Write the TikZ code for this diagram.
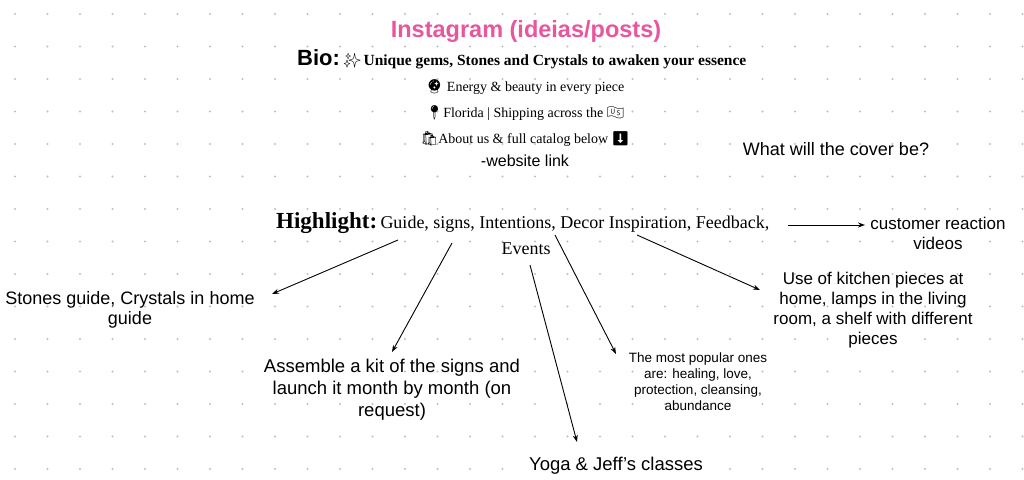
\documentclass[tikz,border=0pt]{standalone}
\usepackage{fontspec}
\setmainfont{Liberation Serif}
\setsansfont{Liberation Sans}
\newfontfamily\emo{Noto Emoji}
\usetikzlibrary{arrows.meta}
\definecolor{pinkt}{HTML}{E8579E}
\tikzset{
  lbl/.style={font=\sffamily\fontsize{18}{20}\selectfont, align=center, inner sep=0pt},
  arr/.style={-{Stealth[length=7pt,width=5pt]}, line width=0.9pt, shorten >=0pt},
}
\begin{document}
\begin{tikzpicture}[x=1pt,y=-1pt]
\useasboundingbox (0,0) rectangle (1024,479);
\fill[white] (0,0) rectangle (1024,479);
\foreach \i in {0,...,31}{\foreach \j in {0,...,14}{
  \fill[black!25] ({15+32.5*\i},{14+32.5*\j}) circle (1.1);}}
\node[inner sep=0pt, text=pinkt, font=\sffamily\bfseries\fontsize{23.5}{26}\selectfont] (title) at (526,31) {Instagram (ideias/posts)};
\node[inner sep=0pt, anchor=west] (bio) at (297,59) {{\sffamily\bfseries\fontsize{22}{24}\selectfont Bio:} {\emo\fontsize{14}{15}\selectfont ✨} {\bfseries\fontsize{15.5}{16}\selectfont Unique gems, Stones and Crystals to awaken your essence}};
\node[inner sep=0pt, font=\fontsize{14}{16}\selectfont] (b1) at (525,87) {{\emo 🔮} Energy \& beauty in every piece};
\node[inner sep=0pt, font=\fontsize{14}{16}\selectfont] (b2) at (525,113) {{\emo 📍}Florida | Shipping across the {\emo 🇺🇸}};
\node[inner sep=0pt, font=\fontsize{14}{16}\selectfont] (b3) at (525,139) {{\emo 🛍}About us \& full catalog below {\emo ⬇}};
\node[lbl, font=\sffamily\fontsize{16}{18}\selectfont] (web) at (525,161) {-website link};
\node[lbl] (cover) at (836,149) {What will the cover be?};
\node[inner sep=0pt, anchor=west] (hl) at (276,223) {{\bfseries\fontsize{23}{26}\selectfont Highlight:} {\fontsize{18}{20}\selectfont Guide, signs, Intentions, Decor Inspiration, Feedback,}};
\node[inner sep=0pt, font=\fontsize{18}{20}\selectfont] (ev) at (526,249) {Events};
\node[lbl, font=\sffamily\fontsize{17}{20}\selectfont] (cust) at (938,233) {customer reaction\\videos};
\node[lbl] (stones) at (130,310) {Stones guide, Crystals in home\\guide};
\node[lbl, font=\sffamily\fontsize{18.5}{22}\selectfont] (kit) at (392,390) {Assemble a kit of the signs and\\launch it month by month (on\\request)};
\node[lbl, font=\sffamily\fontsize{13.5}{16}\selectfont] (pop) at (698,382) {The most popular ones\\are: healing, love,\\protection, cleansing,\\abundance};
\node[lbl, font=\sffamily\fontsize{17}{20}\selectfont] (use) at (873,310) {Use of kitchen pieces at\\home, lamps in the living\\room, a shelf with different\\pieces};
\node[lbl, font=\sffamily\fontsize{18.5}{20}\selectfont] (yoga) at (616,466) {Yoga \& Jeff's classes};
\coordinate (s0) at (788,225); \coordinate (e0) at (865,225);
\coordinate (s1) at (398,240); \coordinate (e1) at (272,294);
\coordinate (s2) at (452,243); \coordinate (e2) at (392,352);
\coordinate (s3) at (530,265); \coordinate (e3) at (577,442);
\coordinate (s4) at (555,235); \coordinate (e4) at (616,354);
\coordinate (s5) at (637,235); \coordinate (e5) at (760,290);
\foreach \k in {0,...,5}{\draw[arr] (s\k) -- (e\k);}
\end{tikzpicture}
\end{document}
